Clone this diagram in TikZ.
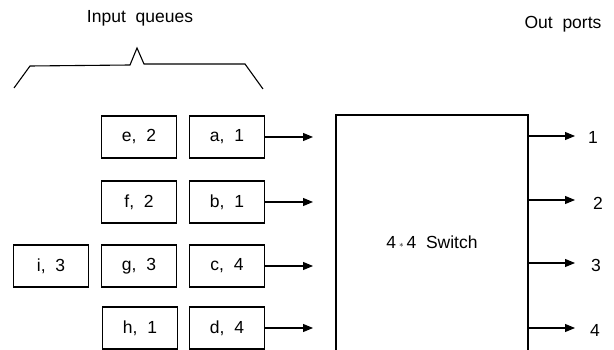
\documentclass[tikz,border=0pt]{standalone}
\usepackage{fontspec}
\setmainfont{Liberation Sans}
\usetikzlibrary{arrows.meta}
\begin{document}
\begin{tikzpicture}[x=1pt,y=-1pt,
  every node/.style={font=\fontsize{17.5}{20}\selectfont},
  qbox/.style={draw,line width=1.1pt,minimum width=75pt,minimum height=42pt,inner sep=0pt},
  conn/.style={line width=1.1pt,-{Triangle[length=10pt,width=8pt]}},
  brace/.style={line width=1.1pt,line join=miter}]
\useasboundingbox (0,0) rectangle (614,350);
\clip (0,0) rectangle (614,350);
% labels
\node (inq) at (140,18) {Input\ \ queues};
\node (outp) at (563,24) {Out\ \ ports};
% brace
\coordinate (b1) at (14,88);
\coordinate (b2) at (30,66);
\coordinate (b3) at (130,65);
\coordinate (b4) at (137,48);
\coordinate (b5) at (144,64);
\coordinate (b6) at (245,64);
\coordinate (b7) at (263,89);
\draw[brace] (b1) -- (b2) -- (b3) -- (b4) -- (b5) -- (b6) -- (b7);
% queues
\node[qbox] (e) at (139,137) {e,\ \ 2};
\node[qbox] (a) at (227,137) {a,\ \ 1};
\node[qbox] (f) at (139,202) {f,\ \ 2};
\node[qbox] (b) at (227,202) {b,\ \ 1};
\node[qbox] (i) at (51,266) {i,\ \ 3};
\node[qbox] (g) at (139,266) {g,\ \ 3};
\node[qbox] (c) at (227,266) {c,\ \ 4};
\node[qbox] (h) at (140,328) {h,\ \ 1};
\node[qbox] (d) at (227,328) {d,\ \ 4};
% switch
\node[draw,line width=1.1pt,minimum width=192pt,minimum height=254pt,inner sep=0pt] (sw) at (432,242) {};
\node (swl) at (432,242) {4\,\raisebox{0.5pt}{\small$\ast$}\,4\ \ Switch};
% input arrows
\coordinate (inx) at (313,0);
\draw[conn] (a.east) -- (a.east -| inx);
\draw[conn] (b.east) -- (b.east -| inx);
\draw[conn] (c.east) -- (c.east -| inx);
\draw[conn] (d.east) -- (d.east -| inx);
% output arrows
\coordinate (o1) at (575,136);
\coordinate (o2) at (575,200);
\coordinate (o3) at (575,263);
\coordinate (o4) at (575,328);
\draw[conn] (o1 -| sw.east) -- (o1);
\draw[conn] (o2 -| sw.east) -- (o2);
\draw[conn] (o3 -| sw.east) -- (o3);
\draw[conn] (o4 -| sw.east) -- (o4);
\node (p1) at (593,137) {1};
\node (p2) at (598,203) {2};
\node (p3) at (596,265) {3};
\node (p4) at (595,330) {4};
\end{tikzpicture}
\end{document}
